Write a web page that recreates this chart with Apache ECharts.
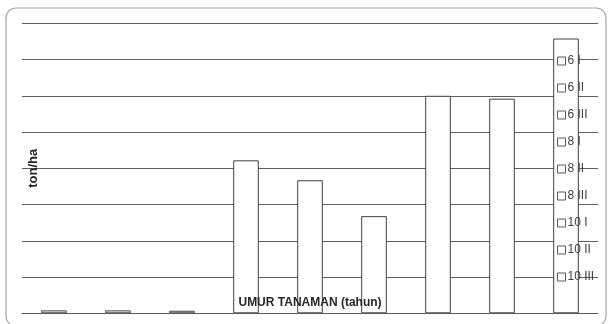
<!DOCTYPE html>
<html>
<head>
<meta charset="utf-8">
<script src="https://cdn.jsdelivr.net/npm/echarts@6/dist/echarts.min.js"></script>
<style>
  html, body { margin: 0; padding: 0; background: #fff; }
  #chart { width: 609px; height: 324px; }
</style>
</head>
<body>
<div id="chart"></div>
<script>
// Yield (ton/ha) by plant age (years) and treatment group
const groups = ['6 I', '6 II', '6 III', '8 I', '8 II', '8 III', '10 I', '10 II', '10 III'];
const yieldValues = [0.08, 0.08, 0.07, 4.22, 3.67, 2.68, 6.0, 5.92, 7.58];
const xAxisTitle = 'UMUR TANAMAN (tahun)';
const yAxisTitle = 'ton/ha';

const chart = echarts.init(document.getElementById('chart'), null, { renderer: 'canvas' });

// One series per group so each gets its own legend entry; all share the same slot.
const series = groups.map((name, i) => ({
  name: name,
  type: 'bar',
  barWidth: '40%',
  barGap: '-100%',
  data: groups.map((_, j) => (j === i ? yieldValues[i] : '-')),
  itemStyle: { color: '#ffffff', borderColor: '#404040', borderWidth: 1 },
  emphasis: { disabled: true }
}));

chart.setOption({
  animation: false,
  backgroundColor: '#ffffff',
  graphic: [{
    type: 'rect',
    shape: { x: 6, y: 8, width: 600, height: 318, r: 10 },
    style: { fill: 'none', stroke: '#a6a6a6', lineWidth: 1.2 },
    z: -10
  }],
  grid: { left: 22, right: 11, top: 23.3, bottom: 10.7, containLabel: false },
  legend: {
    orient: 'vertical',
    left: 557,
    top: 54,
    padding: 0,
    icon: 'rect',
    itemWidth: 8,
    itemHeight: 8,
    itemGap: 13,
    data: groups,
    itemStyle: { color: '#ffffff', borderColor: '#595959', borderWidth: 1 },
    textStyle: { fontFamily: 'Liberation Sans', fontSize: 12, color: '#404040', lineHeight: 14, padding: [0, 0, 0, -3] }
  },
  xAxis: {
    type: 'category',
    z: 5,
    data: groups,
    name: xAxisTitle,
    nameLocation: 'middle',
    nameGap: -17,
    nameTextStyle: { fontFamily: 'Liberation Sans', fontWeight: 'bold', fontSize: 12, color: '#262626' },
    axisLine: { lineStyle: { color: '#595959', width: 1 } },
    axisTick: { show: false },
    axisLabel: { show: false }
  },
  yAxis: {
    type: 'value',
    min: 0,
    max: 8,
    interval: 1,
    name: yAxisTitle,
    nameLocation: 'middle',
    nameGap: -18,
    nameTextStyle: { fontFamily: 'Liberation Sans', fontWeight: 'bold', fontSize: 13, color: '#262626' },
    axisLine: { show: false },
    axisTick: { show: false },
    axisLabel: { show: false },
    splitLine: { lineStyle: { color: '#5f5f5f', width: 1 } }
  },
  series: series
});
</script>
</body>
</html>
